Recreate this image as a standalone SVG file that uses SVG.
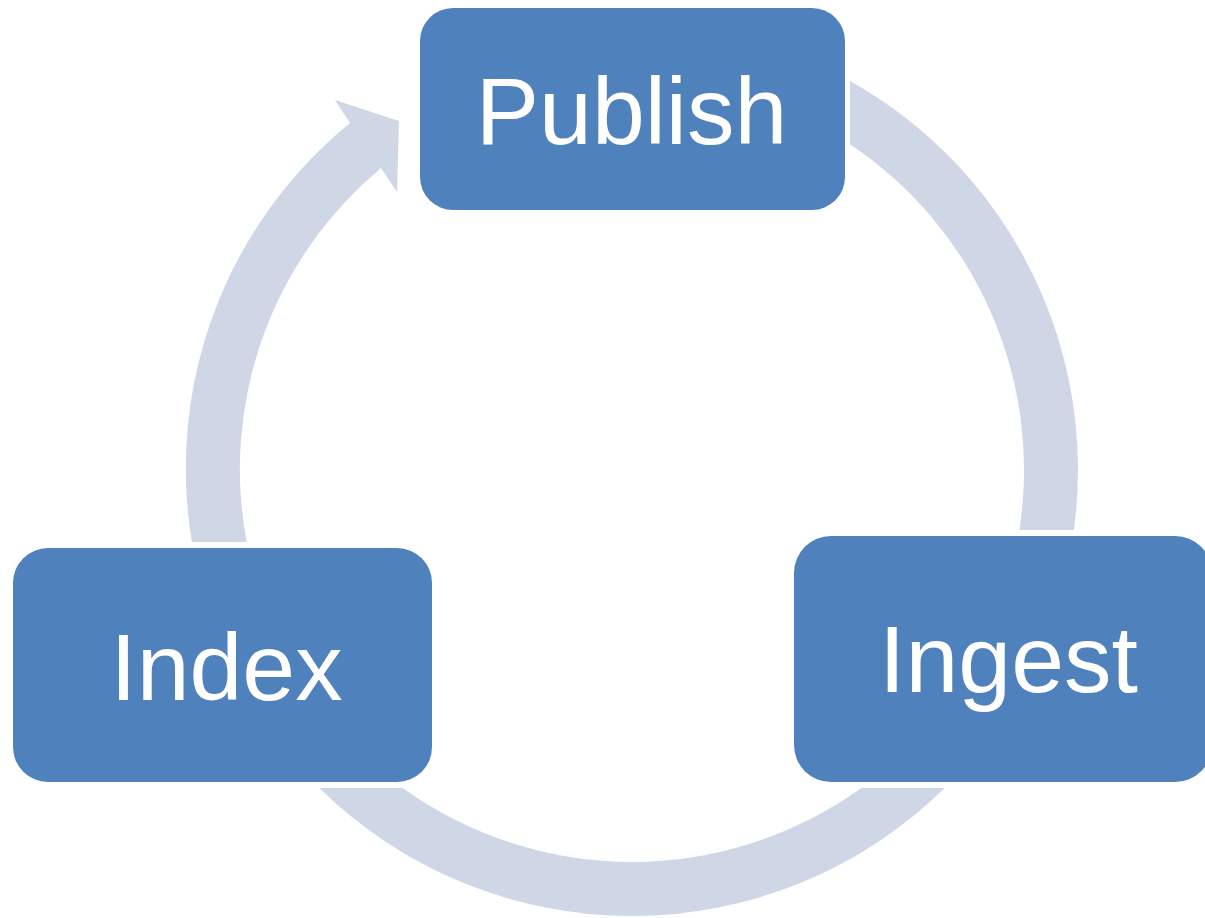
<svg xmlns="http://www.w3.org/2000/svg" width="1205" height="918" viewBox="0 0 1205 918">
  <style>
    .ring { fill: #CFD7E6; stroke: none; }
    .box { fill: #4F81BD; }
    .lbl { fill: #FFFFFF; font-family: "Liberation Sans", Arial, sans-serif; font-size: 95px; text-anchor: middle; }
  </style>
  <rect width="1205" height="918" fill="#FFFFFF"/>
  <g id="connectors">
    <path class="ring" d="M850,80.9 A446,446 0 0 1 1073.9,530 L1019.4,530 A392,392 0 0 0 850,144.2 Z"/>
    <path class="ring" d="M944.7,788 A446,446 0 0 1 319.3,788 L402.8,788 A392,392 0 0 0 861.2,788 Z"/>
    <path class="ring" d="M191.9,542 A446,446 0 0 1 350,123 L335,100 L399,121 L397,192 L381,168 A392,392 0 0 0 246.7,542 Z"/>
  </g>
  <g id="publish">
    <rect class="box" x="420" y="8" width="425" height="202" rx="33" ry="33"/>
    <text class="lbl" x="631.5" y="144">Publish</text>
  </g>
  <g id="ingest">
    <rect class="box" x="794" y="536" width="418" height="246" rx="37" ry="37"/>
    <text class="lbl" x="1008.5" y="692">Ingest</text>
  </g>
  <g id="index">
    <rect class="box" x="13" y="548" width="419" height="234" rx="35" ry="35"/>
    <text class="lbl" x="226.5" y="700">Index</text>
  </g>
</svg>
